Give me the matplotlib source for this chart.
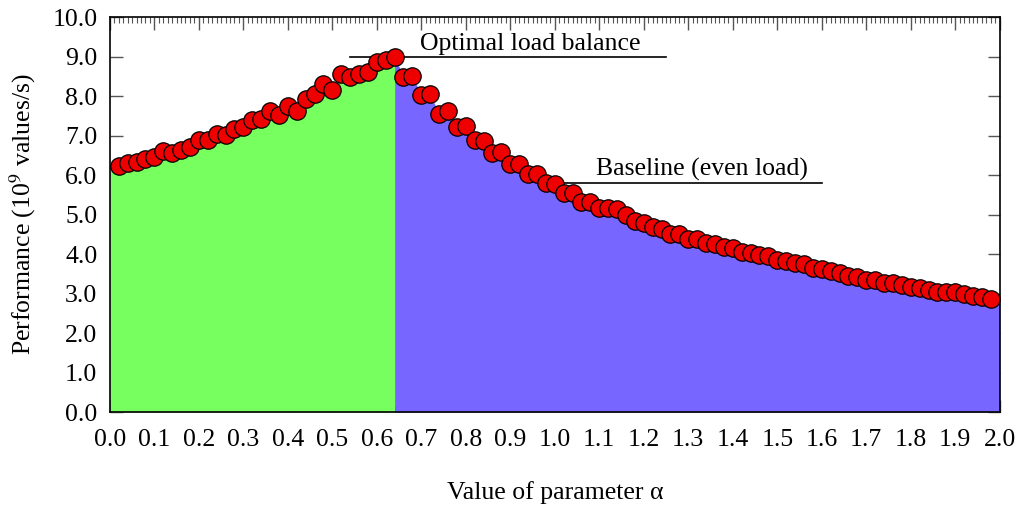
import matplotlib
matplotlib.use("Agg")
import matplotlib.pyplot as plt
import numpy as np
from matplotlib.ticker import MultipleLocator, FormatStrFormatter

plt.rcParams['font.family'] = ['Liberation Serif', 'DejaVu Serif']
plt.rcParams['mathtext.fontset'] = 'stix'

# measured points, alpha step 0.02
alpha = np.round(np.arange(1, 100) * 0.02, 2)
perf = [6.23, 6.31, 6.32, 6.41, 6.45, 6.61, 6.57, 6.63, 6.71, 6.88,
        6.90, 7.03, 7.02, 7.18, 7.21, 7.39, 7.43, 7.63, 7.52, 7.75,
        7.63, 7.92, 8.05, 8.30, 8.16, 8.55, 8.49, 8.56, 8.62, 8.87,
        8.91, 9.00, 8.49, 8.51, 8.03, 8.05, 7.55, 7.62, 7.23, 7.24,
        6.89, 6.87, 6.56, 6.59, 6.28, 6.27, 6.03, 6.04, 5.79, 5.77,
        5.56, 5.56, 5.33, 5.33, 5.17, 5.16, 5.13, 5.00, 4.84, 4.80,
        4.68, 4.64, 4.52, 4.51, 4.39, 4.39, 4.27, 4.25, 4.18, 4.16,
        4.06, 4.04, 3.97, 3.95, 3.85, 3.83, 3.77, 3.74, 3.65, 3.62,
        3.56, 3.52, 3.45, 3.41, 3.35, 3.34, 3.27, 3.27, 3.22, 3.17,
        3.13, 3.09, 3.05, 3.05, 3.03, 3.00, 2.93, 2.92, 2.87]
perf = np.array(perf)

split_alpha = 0.64          # optimum
optimal_line = (0.54, 1.25, 9.0)
baseline_line = (1.02, 1.60, 5.8)

FS = 18.5

fig = plt.figure(figsize=(10.17, 5.05), dpi=100)
ax = fig.add_axes([0.108, 0.184, 0.875, 0.782])

# fill under the curve, extended to the axis edges
fx = np.concatenate([[0.0], alpha, [2.0]])
fy = np.concatenate([[perf[0]], perf, [perf[-1]]])
left = fx <= split_alpha
ax.fill_between(fx[left], fy[left], color='#77ff5f', lw=0, zorder=3)
right = fx >= split_alpha
ax.fill_between(fx[right], fy[right], color='#7766ff', lw=0, zorder=3)

ax.plot(alpha, perf, 'o', ms=12.5, mfc='#ee0000', mec='black', mew=0.9,
        zorder=4, clip_on=False)

# annotations
ax.plot(optimal_line[:2], [optimal_line[2]] * 2, color='black', lw=1.2, zorder=2)
ax.text(0.945, optimal_line[2] + 0.05, 'Optimal load balance',
        ha='center', va='bottom', fontsize=FS)
ax.plot(baseline_line[:2], [baseline_line[2]] * 2, color='black', lw=1.2, zorder=2)
ax.text(1.33, baseline_line[2] + 0.05, 'Baseline (even load)',
        ha='center', va='bottom', fontsize=FS)

ax.set_xlim(0, 2.0)
ax.set_ylim(0, 10.0)
ax.xaxis.set_major_locator(MultipleLocator(0.1))
ax.xaxis.set_minor_locator(MultipleLocator(0.01))
ax.yaxis.set_major_locator(MultipleLocator(1.0))
ax.xaxis.set_major_formatter(FormatStrFormatter('%.1f'))
ax.yaxis.set_major_formatter(FormatStrFormatter('%.1f'))
ax.tick_params(which='both', direction='in', top=True, right=True,
               labelsize=FS, color='#555555')
ax.tick_params(which='major', length=9, width=1)
ax.tick_params(which='minor', length=4, width=0.8)
ax.tick_params(axis='x', pad=12)
ax.tick_params(axis='y', pad=9)
for s in ax.spines.values():
    s.set_zorder(5)
    s.set_linewidth(1.2)

ax.set_xlabel('Value of parameter α', fontsize=FS, labelpad=22)
ax.set_ylabel('Performance (10$^9$ values/s)', fontsize=FS, labelpad=10)

fig.savefig('out.png', dpi=100)
